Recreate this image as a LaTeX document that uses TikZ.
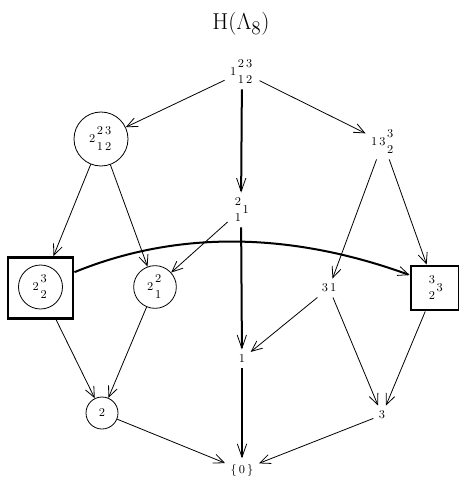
\documentclass[tikz,border=0pt]{standalone}
\usepackage{amsmath}
\usepackage{amssymb}
\usetikzlibrary{arrows.meta}

\newcommand{\stk}[2]{\genfrac{}{}{0pt}{0}{#1}{#2}}

\begin{document}
\begin{tikzpicture}[x=0.75pt,y=0.75pt,yscale=-1,xscale=1,
  lbl/.style={inner sep=4pt,font=\small},
  ring/.style={draw,circle,inner sep=0pt,line width=0.6pt,font=\small},
  frame/.style={draw,rectangle,line width=2.2pt,inner sep=0pt},
  arr/.style={line width=0.6pt,-{Straight Barb[length=8pt,width=7pt,line width=0.6pt]}},
  hvy/.style={line width=1.5pt,-{Straight Barb[length=10pt,width=7pt,line width=0.6pt]}}]
\useasboundingbox (0,0) rectangle (458,477);

% Text Node
\node (title) at (241,24) {\fontsize{19}{23}\selectfont $\mathrm{H}(\Lambda_8)$};
% Text Node
\node [lbl] (top) at (242,72) {$1\stk{2\,3}{1\,2}$};
% Circle
\node [ring,minimum size=40.5pt] (c223) at (101,139) {$2\stk{2\,3}{1\,2}$};
% Text Node
\node [lbl] (r133) at (383,142) {$1\,3\stk{3}{2}$};
% Text Node
\node [lbl] (mid) at (241,210) {$\stk{2}{1}1$};
% Boxed circle
\node [frame,minimum width=48.75pt,minimum height=45.75pt] (boxL) at (40.5,288) {};
\node [ring,minimum size=33pt] (c32) at (40.5,287) {$2\stk{3}{2}$};
% Circle
\node [ring,minimum size=32pt] (c21) at (155,287) {$2\stk{2}{1}$};
% Text Node
\node [lbl] (n31) at (329,288) {$3\,1$};
% Box
\node [frame,minimum width=36pt,minimum height=33pt,font=\small] (boxR) at (435,288) {$\stk{3}{2}3$};
% Text Node
\node [lbl] (one) at (242,359) {$1$};
% Circle
\node [ring,minimum size=24pt] (c2) at (102,413) {$2$};
% Text Node
\node [lbl] (three) at (382,415) {$3$};
% Text Node
\node [lbl] (zero) at (242,470) {$\{\,0\,\}$};

%Arrows
\draw [arr] (top) -- (c223);
\draw [arr] (top) -- (r133);
\draw [hvy] (top) -- (mid);
\draw [arr] (c223) -- (boxL);
\draw [arr] (c223) -- (c21);
\draw [arr] (mid) -- (c21);
\draw [arr] (r133) -- (n31);
\draw [arr] (r133) -- (boxR);
\draw [hvy] (mid) -- (one);
\draw [arr] (n31) -- (one);
\draw [arr] (n31) -- (three);
\draw [arr] (boxR) -- (three);
\draw [arr] (boxL) -- (c2);
\draw [arr] (c21) -- (c2);
\draw [hvy] (one) -- (zero);
\draw [arr] (c2) -- (zero);
\draw [arr] (three) -- (zero);

%Curve
\draw [line width=1.5pt,-{Straight Barb[length=8pt,width=7pt,line width=0.6pt]}] (boxL.25) .. controls +(110,-45) and +(-110,-40) .. (boxR.153);

\end{tikzpicture}
\end{document}
